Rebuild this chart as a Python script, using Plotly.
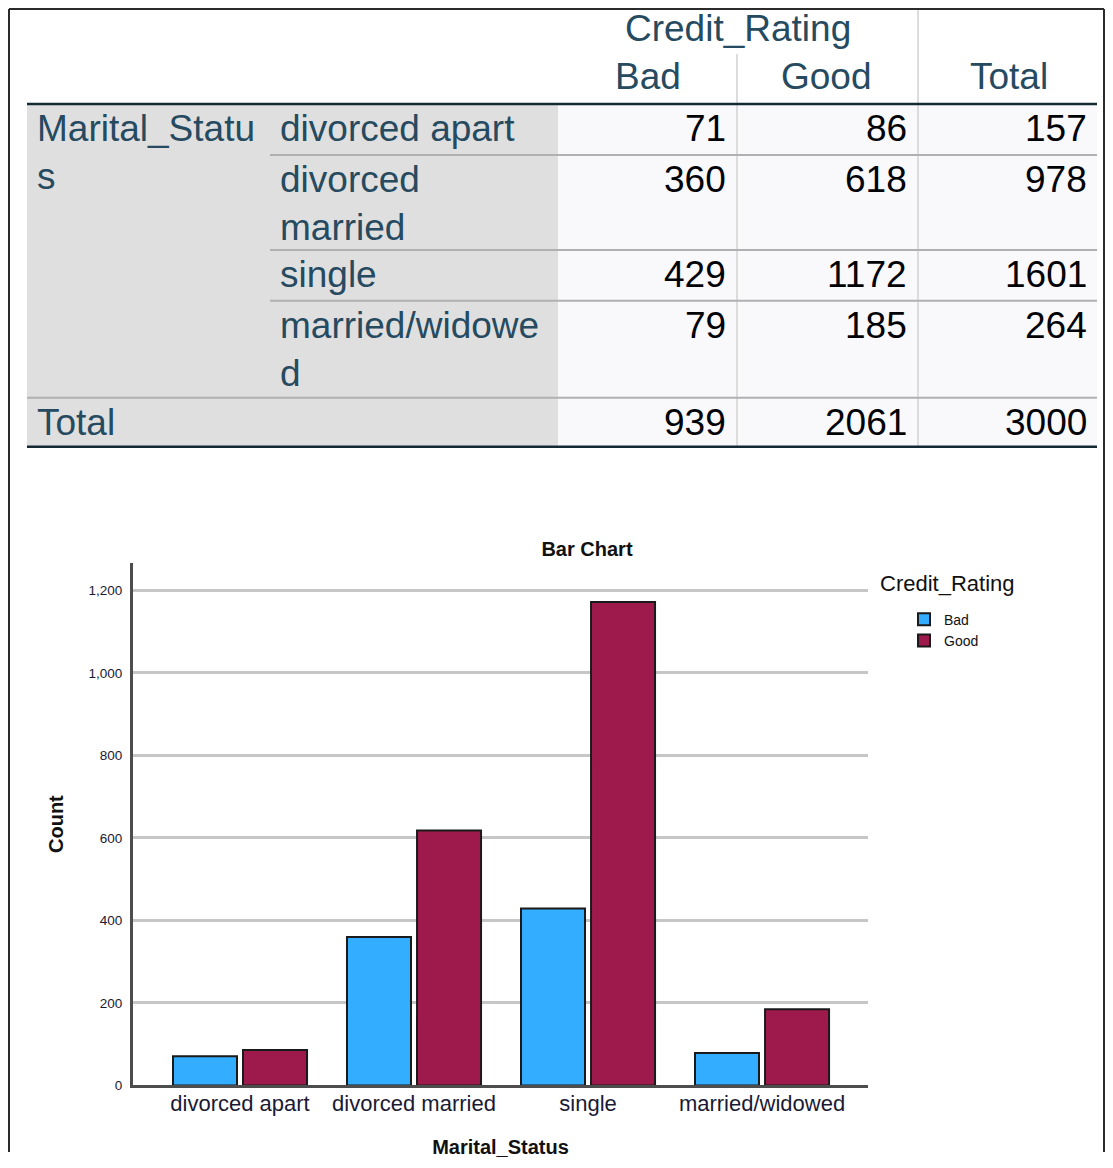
import plotly.graph_objects as go

# crosstab / chart data
marital_status = ["divorced apart", "divorced married", "single", "married/widowed"]
row_labels = ["divorced apart", "divorced<br>married", "single", "married/widowe<br>d"]
ratings = ["Bad", "Good"]
bad_counts = [71, 360, 429, 79]
good_counts = [86, 618, 1172, 185]
y_ticks = [0, 200, 400, 600, 800, 1000, 1200]

bar_colors = ["#33adff", "#9e1a4d"]
FONT = "Liberation Sans, Arial, sans-serif"
LABEL_CLR = "#264a60"
NUM_CLR = "#010205"

# page is laid out in reference pixels; the browser adds an 8px body margin
OFF = 8
W, H = 1113 - 2 * OFF, 1168 - 2 * OFF
K = 1.0065  # small vertical correction seen in the rendered page


def fx(x):
    return (x - OFF) / W


def fy(y):
    return 1 - (y - OFF) * K / H


fig = go.Figure()

for name, vals, color in zip(ratings, [bad_counts, good_counts], bar_colors):
    fig.add_trace(
        go.Bar(x=marital_status, y=vals, name=name,
               marker=dict(color=color, line=dict(color="#1a1a1a", width=2)))
    )

shapes = []
annotations = []

# outer frame
for x0, y0, x1, y1 in [(9, 9, 9, 1168), (9, 9, 1104, 9), (1104, 9, 1104, 1168)]:
    shapes.append(dict(type="line", xref="paper", yref="paper",
                       x0=fx(x0), y0=fy(y0), x1=fx(x1), y1=max(fy(y1), 0),
                       line=dict(color="#2b2b2b", width=2)))

# ---- crosstab table ----
T_LEFT, T_RIGHT = 27, 1097
COL_SPLIT = 558
row_tops = [104, 155, 250, 301, 398, 447]
FS = 37
LH = 1.3 * FS


def rect(x0, y0, x1, y1, color):
    shapes.append(dict(type="rect", xref="paper", yref="paper", layer="below",
                       x0=fx(x0), y0=fy(y1), x1=fx(x1), y1=fy(y0),
                       fillcolor=color, line=dict(width=0)))


def hline(y, x0, x1, color, width):
    shapes.append(dict(type="line", xref="paper", yref="paper",
                       x0=fx(x0), y0=fy(y), x1=fx(x1), y1=fy(y),
                       line=dict(color=color, width=width)))


def vline(x, y0, y1, color, width):
    shapes.append(dict(type="line", xref="paper", yref="paper",
                       x0=fx(x), y0=fy(y0), x1=fx(x), y1=fy(y1),
                       line=dict(color=color, width=width)))


def text(s, x, y, xanchor, color, size=FS, lines=1, bold=False):
    annotations.append(dict(text=s, xref="paper", yref="paper",
                            x=fx(x), y=fy(y + (lines - 1) * LH / 2),
                            xanchor=xanchor, yanchor="middle", showarrow=False,
                            align="left" if xanchor == "left" else xanchor,
                            font=dict(family=FONT, size=size, color=color,
                                      weight="bold" if bold else "normal")))


rect(T_LEFT, row_tops[0], COL_SPLIT, row_tops[-1], "#dfdfdf")
rect(COL_SPLIT, row_tops[0], T_RIGHT, row_tops[-1], "#f9f9fb")

vline(737, 54, row_tops[-1], "#dcdcdc", 2)
vline(918, 10, row_tops[-1], "#dcdcdc", 2)
for y in row_tops[1:-2]:
    hline(y, 270, T_RIGHT, "#b0b0b0", 2)
hline(row_tops[-2], T_LEFT, T_RIGHT, "#b0b0b0", 2)
hline(row_tops[0], T_LEFT, T_RIGHT, "#152935", 2.5)
hline(row_tops[-1], T_LEFT, T_RIGHT, "#152935", 2.5)

# header
text("Credit_Rating", 738, 29, "center", LABEL_CLR)
for name, cx in zip(ratings + ["Total"], [648, 826, 1009]):
    text(name, cx, 77, "center", LABEL_CLR)

# body
text("Marital_Statu<br>s", 35, 129, "left", LABEL_CLR, lines=2)
row_totals = [b + g for b, g in zip(bad_counts, good_counts)]
for i, lab in enumerate(row_labels):
    cy = row_tops[i] + 24.5
    text(lab, 278, cy, "left", LABEL_CLR, lines=lab.count("<br>") + 1)
    for val, xr in zip([bad_counts[i], good_counts[i], row_totals[i]], [728, 909, 1089]):
        text(str(val), xr, cy, "right", NUM_CLR)

col_totals = [sum(bad_counts), sum(good_counts), sum(row_totals)]
cy = row_tops[4] + 24.5
text("Total", 35, cy, "left", LABEL_CLR)
for val, xr in zip(col_totals, [728, 909, 1089]):
    text(str(val), xr, cy, "right", NUM_CLR)

# legend title
text("Credit_Rating", 878, 584, "left", "#111111", size=22)

fig.update_layout(
    width=W, height=H,
    margin=dict(l=0, r=0, t=0, b=0),
    paper_bgcolor="white", plot_bgcolor="white",
    font=dict(family=FONT, color="#111111"),
    shapes=shapes, annotations=annotations,
    barmode="group", bargap=0.195, bargroupgap=0.086,
    title=dict(text="Bar Chart", x=fx(587), y=fy(546), xanchor="center", yanchor="middle",
               font=dict(size=20, weight="bold", color="#111111")),
    legend=dict(x=fx(904), y=fy(604), xanchor="left", yanchor="top",
                font=dict(size=14, color="#111111"), bgcolor="rgba(0,0,0,0)"),
)

fig.update_xaxes(
    domain=[fx(133), fx(868)], range=[-0.615, 3.609],
    showline=True, linecolor="#4d4d4d", linewidth=2.5,
    showgrid=False, ticks="", ticklabelstandoff=-4,
    tickfont=dict(size=22, color="#1a1a33"),
    title=dict(text="Marital_Status", standoff=26,
               font=dict(size=20, weight="bold", color="#111111")),
)

fig.update_yaxes(
    domain=[fy(1086), fy(563)], range=[0, 1267],
    tickvals=y_ticks, tickformat=",", ticks="", ticklabelstandoff=5,
    tickfont=dict(size=13.5, color="#1a1a33"),
    showgrid=True, gridcolor="#c6c6c6", gridwidth=2.5,
    showline=True, linecolor="#4d4d4d", linewidth=3,
    zeroline=False,
    title=dict(text="Count", standoff=20,
               font=dict(size=20, weight="bold", color="#111111")),
)

fig.write_html("out.html")
